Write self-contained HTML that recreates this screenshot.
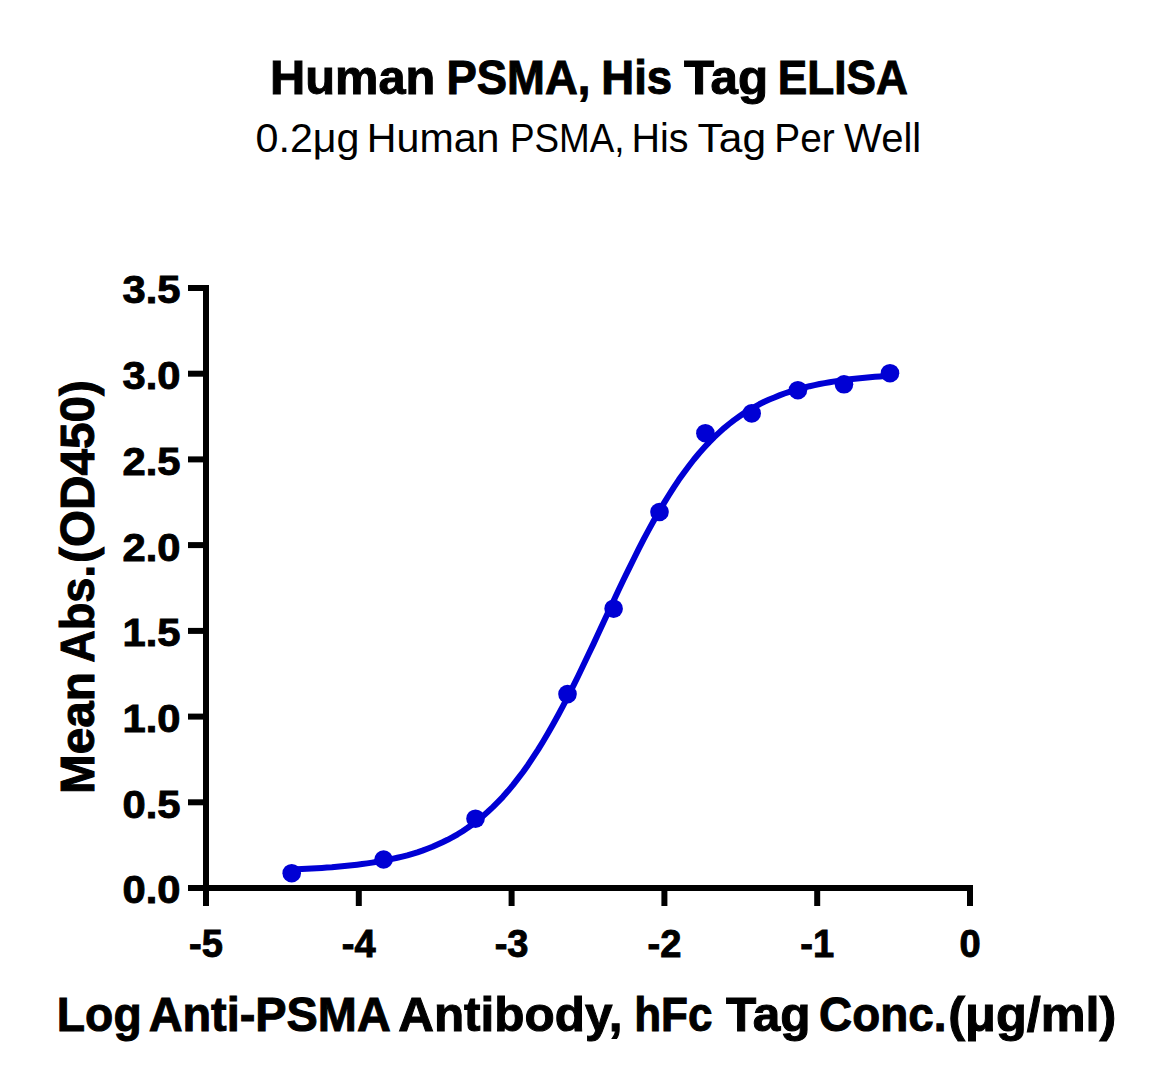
<!DOCTYPE html>
<html><head><meta charset="utf-8"><style>
html,body{margin:0;padding:0;background:#fff;}
svg{display:block;}
text{font-family:"Liberation Sans",sans-serif;fill:#000;}
</style></head><body>
<svg width="1161" height="1087" viewBox="0 0 1161 1087">
<rect width="1161" height="1087" fill="#fff"/>
<text x="270.07" y="94.4" font-size="48.3" font-weight="bold" stroke="#000" stroke-width="1" textLength="165.35" lengthAdjust="spacingAndGlyphs">Human</text>
<text x="446.38" y="94.4" font-size="48.3" font-weight="bold" stroke="#000" stroke-width="1" textLength="144.02" lengthAdjust="spacingAndGlyphs">PSMA,</text>
<text x="601.27" y="94.4" font-size="48.3" font-weight="bold" stroke="#000" stroke-width="1" textLength="70.83" lengthAdjust="spacingAndGlyphs">His</text>
<text x="684.10" y="94.4" font-size="48.3" font-weight="bold" stroke="#000" stroke-width="1" textLength="84.05" lengthAdjust="spacingAndGlyphs">Tag</text>
<text x="777.86" y="94.4" font-size="48.3" font-weight="bold" stroke="#000" stroke-width="1" textLength="129.97" lengthAdjust="spacingAndGlyphs">ELISA</text>
<text x="255.58" y="151.6" font-size="40.7" textLength="103.90" lengthAdjust="spacingAndGlyphs">0.2μg</text>
<text x="366.87" y="151.6" font-size="40.7" textLength="132.53" lengthAdjust="spacingAndGlyphs">Human</text>
<text x="509.99" y="151.6" font-size="40.7" textLength="114.60" lengthAdjust="spacingAndGlyphs">PSMA,</text>
<text x="631.49" y="151.6" font-size="40.7" textLength="57.04" lengthAdjust="spacingAndGlyphs">His</text>
<text x="697.56" y="151.6" font-size="40.7" textLength="68.47" lengthAdjust="spacingAndGlyphs">Tag</text>
<text x="774.34" y="151.6" font-size="40.7" textLength="60.37" lengthAdjust="spacingAndGlyphs">Per</text>
<text x="844.10" y="151.6" font-size="40.7" textLength="77.14" lengthAdjust="spacingAndGlyphs">Well</text>

<g stroke="#000" stroke-width="6" fill="none" stroke-linecap="butt">
<path d="M206 285 V888 H970"/>
<path d="M203 888 H973"/>
<line x1="188" y1="888.0" x2="206" y2="888.0"/>
<line x1="188" y1="802.3" x2="206" y2="802.3"/>
<line x1="188" y1="716.6" x2="206" y2="716.6"/>
<line x1="188" y1="630.9" x2="206" y2="630.9"/>
<line x1="188" y1="545.1" x2="206" y2="545.1"/>
<line x1="188" y1="459.4" x2="206" y2="459.4"/>
<line x1="188" y1="373.7" x2="206" y2="373.7"/>
<line x1="188" y1="288.0" x2="206" y2="288.0"/>
<line x1="206.0" y1="888" x2="206.0" y2="906"/>
<line x1="358.8" y1="888" x2="358.8" y2="906"/>
<line x1="511.6" y1="888" x2="511.6" y2="906"/>
<line x1="664.4" y1="888" x2="664.4" y2="906"/>
<line x1="817.2" y1="888" x2="817.2" y2="906"/>
<line x1="970.0" y1="888" x2="970.0" y2="906"/>

</g>
<g font-size="38.1" font-weight="bold" stroke="#000" stroke-width="0.9">
<text x="122.5" y="903.4" textLength="58" lengthAdjust="spacingAndGlyphs">0.0</text>
<text x="122.5" y="817.7" textLength="58" lengthAdjust="spacingAndGlyphs">0.5</text>
<text x="122.5" y="732.0" textLength="58" lengthAdjust="spacingAndGlyphs">1.0</text>
<text x="122.5" y="646.3" textLength="58" lengthAdjust="spacingAndGlyphs">1.5</text>
<text x="122.5" y="560.5" textLength="58" lengthAdjust="spacingAndGlyphs">2.0</text>
<text x="122.5" y="474.8" textLength="58" lengthAdjust="spacingAndGlyphs">2.5</text>
<text x="122.5" y="389.1" textLength="58" lengthAdjust="spacingAndGlyphs">3.0</text>
<text x="122.5" y="303.4" textLength="58" lengthAdjust="spacingAndGlyphs">3.5</text>
<text x="206.0" y="956.5" text-anchor="middle">-5</text>
<text x="358.8" y="956.5" text-anchor="middle">-4</text>
<text x="511.6" y="956.5" text-anchor="middle">-3</text>
<text x="664.4" y="956.5" text-anchor="middle">-2</text>
<text x="817.2" y="956.5" text-anchor="middle">-1</text>
<text x="970.0" y="956.5" text-anchor="middle">0</text>

</g>
<text x="56.85" y="1031" font-size="48.7" font-weight="bold" stroke="#000" stroke-width="1" textLength="84.83" lengthAdjust="spacingAndGlyphs">Log</text>
<text x="148.64" y="1031" font-size="48.7" font-weight="bold" stroke="#000" stroke-width="1" textLength="242.14" lengthAdjust="spacingAndGlyphs">Anti-PSMA</text>
<text x="398.18" y="1031" font-size="48.7" font-weight="bold" stroke="#000" stroke-width="1" textLength="224.32" lengthAdjust="spacingAndGlyphs">Antibody,</text>
<text x="634.19" y="1031" font-size="48.7" font-weight="bold" stroke="#000" stroke-width="1" textLength="78.22" lengthAdjust="spacingAndGlyphs">hFc</text>
<text x="726.10" y="1031" font-size="48.7" font-weight="bold" stroke="#000" stroke-width="1" textLength="84.40" lengthAdjust="spacingAndGlyphs">Tag</text>
<text x="819.12" y="1031" font-size="48.7" font-weight="bold" stroke="#000" stroke-width="1" textLength="127.34" lengthAdjust="spacingAndGlyphs">Conc.</text>
<text x="948.23" y="1031" font-size="48.7" font-weight="bold" stroke="#000" stroke-width="1" textLength="168.17" lengthAdjust="spacingAndGlyphs">(μg/ml)</text>

<g transform="translate(94.3,800) rotate(-90)">
<text x="6.02" y="0" font-size="48" font-weight="bold" stroke="#000" stroke-width="1" textLength="121.86" lengthAdjust="spacingAndGlyphs">Mean</text>
<text x="137.26" y="0" font-size="48" font-weight="bold" stroke="#000" stroke-width="1" textLength="97.67" lengthAdjust="spacingAndGlyphs">Abs.</text>
<text x="237.01" y="0" font-size="48" font-weight="bold" stroke="#000" stroke-width="1" textLength="182.94" lengthAdjust="spacingAndGlyphs">(OD450)</text>
</g>
<polyline points="291.7,869.5 296.7,869.2 301.8,869.0 306.8,868.8 311.8,868.5 316.8,868.2 321.9,867.9 326.9,867.5 331.9,867.2 336.9,866.7 342.0,866.3 347.0,865.8 352.0,865.3 357.1,864.7 362.1,864.1 367.1,863.4 372.1,862.6 377.2,861.8 382.2,860.9 387.2,860.0 392.3,858.9 397.3,857.8 402.3,856.6 407.3,855.3 412.4,853.8 417.4,852.3 422.4,850.6 427.4,848.7 432.5,846.8 437.5,844.6 442.5,842.3 447.6,839.8 452.6,837.2 457.6,834.3 462.6,831.2 467.7,827.8 472.7,824.2 477.7,820.4 482.8,816.2 487.8,811.8 492.8,807.1 497.8,802.1 502.9,796.8 507.9,791.1 512.9,785.1 517.9,778.7 523.0,772.0 528.0,764.9 533.0,757.4 538.1,749.6 543.1,741.5 548.1,733.0 553.1,724.2 558.2,715.0 563.2,705.6 568.2,695.8 573.3,685.9 578.3,675.7 583.3,665.3 588.3,654.8 593.4,644.1 598.4,633.3 603.4,622.6 608.4,611.8 613.5,601.0 618.5,590.3 623.5,579.8 628.6,569.4 633.6,559.2 638.6,549.2 643.6,539.4 648.7,529.9 653.7,520.7 658.7,511.9 663.8,503.4 668.8,495.2 673.8,487.3 678.8,479.8 683.9,472.7 688.9,466.0 693.9,459.5 698.9,453.5 704.0,447.8 709.0,442.4 714.0,437.3 719.1,432.6 724.1,428.1 729.1,424.0 734.1,420.1 739.2,416.5 744.2,413.1 749.2,410.0 754.3,407.1 759.3,404.3 764.3,401.8 769.3,399.5 774.4,397.4 779.4,395.4 784.4,393.5 789.4,391.8 794.5,390.2 799.5,388.8 804.5,387.5 809.6,386.2 814.6,385.1 819.6,384.0 824.6,383.1 829.7,382.2 834.7,381.4 839.7,380.6 844.8,379.9 849.8,379.3 854.8,378.7 859.8,378.2 864.9,377.7 869.9,377.2 874.9,376.8 879.9,376.4 885.0,376.1 890.0,375.7" fill="none" stroke="#0000D4" stroke-width="6" stroke-linejoin="round" stroke-linecap="round"/>
<g fill="#0000D4">
<circle cx="291.7" cy="873.2" r="9.3"/>
<circle cx="383.6" cy="859.5" r="9.3"/>
<circle cx="475.5" cy="818.7" r="9.3"/>
<circle cx="567.5" cy="694.1" r="9.3"/>
<circle cx="613.6" cy="608.7" r="9.3"/>
<circle cx="659.5" cy="512" r="9.3"/>
<circle cx="705.4" cy="433.2" r="9.3"/>
<circle cx="751.7" cy="413.4" r="9.3"/>
<circle cx="797.9" cy="390.2" r="9.3"/>
<circle cx="844" cy="384.3" r="9.3"/>
<circle cx="890" cy="373.2" r="9.3"/>
</g>
</svg>
</body></html>
